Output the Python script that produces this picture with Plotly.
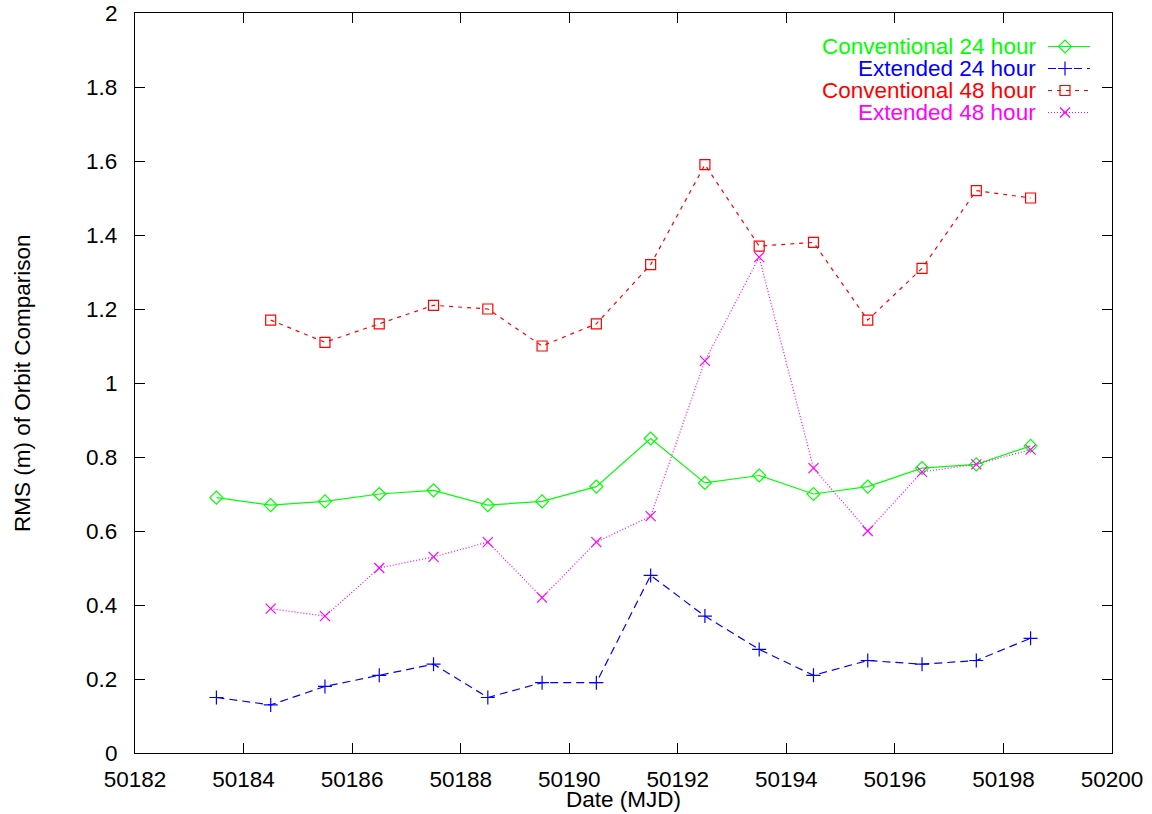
import plotly.graph_objects as go

# Day (MJD) of each orbit arc
mjd_24 = [50183.5, 50184.5, 50185.5, 50186.5, 50187.5, 50188.5, 50189.5, 50190.5,
          50191.5, 50192.5, 50193.5, 50194.5, 50195.5, 50196.5, 50197.5, 50198.5]
mjd_48 = [50184.5, 50185.5, 50186.5, 50187.5, 50188.5, 50189.5, 50190.5,
          50191.5, 50192.5, 50193.5, 50194.5, 50195.5, 50196.5, 50197.5, 50198.5]

# RMS (m) of orbit comparison
conv_24 = [0.69, 0.67, 0.68, 0.70, 0.71, 0.67, 0.68, 0.72,
           0.85, 0.73, 0.75, 0.70, 0.72, 0.77, 0.78, 0.83]
ext_24 = [0.15, 0.13, 0.18, 0.21, 0.24, 0.15, 0.19, 0.19,
          0.48, 0.37, 0.28, 0.21, 0.25, 0.24, 0.25, 0.31]
conv_48 = [1.17, 1.11, 1.16, 1.21, 1.20, 1.10, 1.16,
           1.32, 1.59, 1.37, 1.38, 1.17, 1.31, 1.52, 1.50]
ext_48 = [0.39, 0.37, 0.50, 0.53, 0.57, 0.42, 0.57,
          0.64, 1.06, 1.34, 0.77, 0.60, 0.76, 0.78, 0.82]

series_names = ["Conventional 24 hour", "Extended 24 hour",
                "Conventional 48 hour", "Extended 48 hour"]

x_ticks = [50182, 50184, 50186, 50188, 50190, 50192, 50194, 50196, 50198, 50200]
y_ticks = [0, 0.2, 0.4, 0.6, 0.8, 1, 1.2, 1.4, 1.6, 1.8, 2]
y_tick_text = ["0", "0.2", "0.4", "0.6", "0.8", "1", "1.2", "1.4", "1.6", "1.8", "2"]

FONT = "Liberation Sans, Arial, Helvetica, sans-serif"
FS = 22.5

styles = [
    dict(color="#00ff00", dash="solid", symbol="diamond-open"),
    dict(color="#0000ff", dash="8px,5px", symbol="cross-thin-open"),
    dict(color="#ff0000", dash="4px,5px", symbol="square-open"),
    dict(color="#ff00ff", dash="1px,2px", symbol="x-thin-open"),
]
xs = [mjd_24, mjd_24, mjd_48, mjd_48]
ys = [conv_24, ext_24, conv_48, ext_48]

fig = go.Figure()
for name, x, y, st in zip(series_names, xs, ys, styles):
    fig.add_trace(go.Scatter(
        x=x, y=y, mode="lines+markers", name=name, showlegend=False,
        line=dict(color=st["color"], width=1.2, dash=st["dash"]),
        marker=dict(symbol=st["symbol"], size=10, color=st["color"],
                    line=dict(color=st["color"], width=1.2)),
    ))

# Key drawn in pixel space on an overlay axis pair covering the plot area
L, R, T, B = 135, 1112, 13, 753
W, H = 1152, 814
key_rows = [46.5, 68.5, 90.5, 112.5]
for name, st, yk in zip(series_names, styles, key_rows):
    fig.add_trace(go.Scatter(
        x=[1048, 1090], y=[yk, yk], mode="lines", xaxis="x2", yaxis="y2",
        showlegend=False, hoverinfo="skip",
        line=dict(color=st["color"], width=1.2, dash=st["dash"]),
    ))
    fig.add_trace(go.Scatter(
        x=[1065], y=[yk], mode="markers", xaxis="x2", yaxis="y2",
        showlegend=False, hoverinfo="skip",
        marker=dict(symbol=st["symbol"], size=10, color=st["color"],
                    line=dict(color=st["color"], width=1.2)),
    ))
    fig.add_annotation(
        x=1038, y=yk, xref="x2", yref="y2", text=name, showarrow=False,
        xanchor="right", yanchor="middle",
        font=dict(family=FONT, size=FS, color=st["color"]),
    )

axis_common = dict(
    showgrid=False, zeroline=False, showline=True, linecolor="black",
    linewidth=1.2, mirror="ticks", ticks="inside", ticklen=10,
    tickcolor="black", tickwidth=1.2, automargin=False,
    tickfont=dict(family=FONT, size=FS, color="black"),
)

fig.update_layout(
    width=W, height=H,
    margin=dict(l=L, r=W - R, t=T, b=H - B, autoexpand=False),
    paper_bgcolor="white", plot_bgcolor="white",
    showlegend=False,
    xaxis=dict(range=[50182, 50200], tickvals=x_ticks,
               ticktext=[str(v) for v in x_ticks], ticklabelstandoff=6,
               **axis_common),
    yaxis=dict(range=[0, 2], tickvals=y_ticks, ticktext=y_tick_text,
               ticklabelstandoff=12, **axis_common),
    xaxis2=dict(range=[L, R], overlaying="x", visible=False, automargin=False),
    yaxis2=dict(range=[B, T], overlaying="y", visible=False, automargin=False),
)

# Axis titles placed in paper coordinates below / left of the frame
fig.add_annotation(
    text="Date (MJD)", x=0.5, y=(B - 799) / (B - T), xref="paper", yref="paper",
    showarrow=False, xanchor="center", yanchor="middle",
    font=dict(family=FONT, size=FS, color="black"),
)
fig.add_annotation(
    text="RMS (m) of Orbit Comparison", x=(22 - L) / (R - L), y=0.5,
    xref="paper", yref="paper", textangle=-90, showarrow=False,
    xanchor="center", yanchor="middle",
    font=dict(family=FONT, size=FS, color="black"),
)

fig.write_html("out.html")
